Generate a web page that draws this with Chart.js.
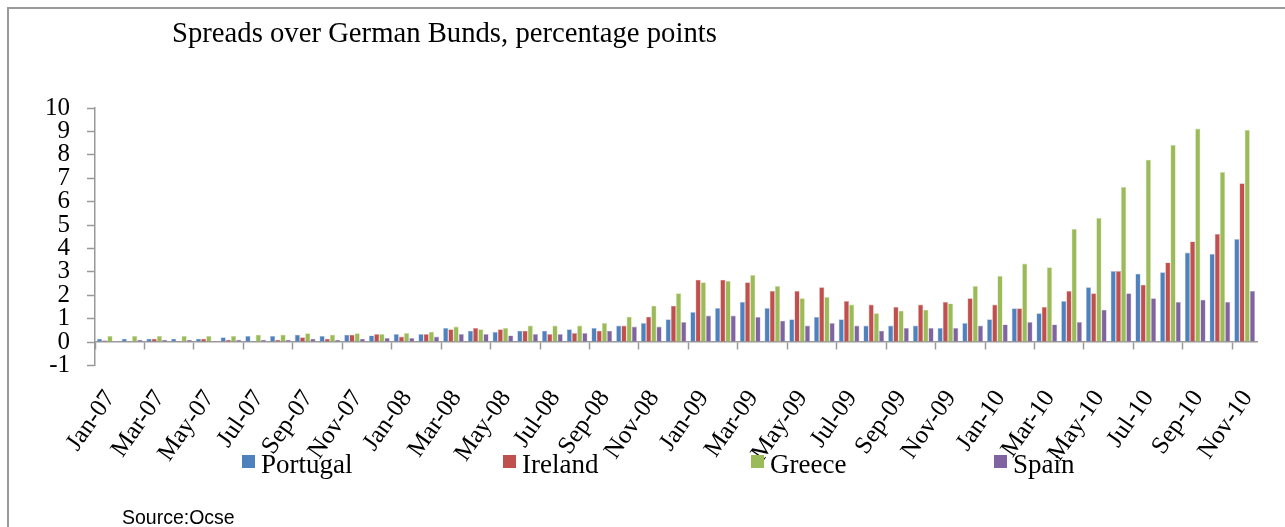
<!DOCTYPE html>
<html>
<head>
<meta charset="utf-8">
<script src="https://cdn.jsdelivr.net/npm/chart.js@4/dist/chart.umd.min.js"></script>
<style>
  html, body { margin: 0; padding: 0; background: #ffffff; }
  #wrap { position: relative; width: 1285px; height: 527px; overflow: hidden; background: #ffffff; }
  #c { position: absolute; left: 0; top: 0; }
  #frame { position: absolute; left: 7px; top: 7px; width: 1400px; height: 600px;
           border-left: 2px solid #999; border-top: 2px solid #999; }
  #subtitle { position: absolute; left: 172px; top: 18px; font-family: "Liberation Serif", serif;
              font-size: 28.7px; line-height: 28px; color: #000; white-space: nowrap; }
  #source { position: absolute; left: 122px; top: 507px; font-family: "Liberation Sans", sans-serif;
            font-size: 19.5px; line-height: 20px; color: #000; white-space: nowrap; }
  .leg { position: absolute; top: 451px; font-family: "Liberation Serif", serif; font-size: 27px;
         line-height: 27px; color: #000; white-space: nowrap; }
  .leg .sw { position: absolute; left: 0; top: 4px; width: 13px; height: 13px; }
  .leg .tx { position: absolute; left: 19px; top: 0; }
</style>
</head>
<body>
<div id="wrap">
  <canvas id="c" width="1285" height="527"></canvas>
  <div id="frame"></div>
  <div id="subtitle">Spreads over German Bunds, percentage points</div>
  <div id="source">Source:Ocse</div>
  <div id="legend"></div>
</div>
<script>
// ---- Data ----
const categories = [
  "Jan-07","Feb-07","Mar-07","Apr-07","May-07","Jun-07","Jul-07","Aug-07","Sep-07","Oct-07","Nov-07","Dec-07",
  "Jan-08","Feb-08","Mar-08","Apr-08","May-08","Jun-08","Jul-08","Aug-08","Sep-08","Oct-08","Nov-08","Dec-08",
  "Jan-09","Feb-09","Mar-09","Apr-09","May-09","Jun-09","Jul-09","Aug-09","Sep-09","Oct-09","Nov-09","Dec-09",
  "Jan-10","Feb-10","Mar-10","Apr-10","May-10","Jun-10","Jul-10","Aug-10","Sep-10","Oct-10","Nov-10"
];
const seriesNames = ["Portugal", "Ireland", "Greece", "Spain"];
const portugal = [0.14,0.14,0.14,0.14,0.14,0.20,0.26,0.26,0.31,0.26,0.31,0.28,
                  0.34,0.34,0.60,0.48,0.43,0.48,0.48,0.54,0.60,0.70,0.81,0.97,
                  1.28,1.45,1.71,1.45,0.97,1.07,0.97,0.70,0.70,0.70,0.60,0.81,
                  0.97,1.44,1.23,1.75,2.34,3.03,2.92,2.98,3.82,3.77,4.40];
const ireland  = [0.07,0.00,0.14,0.04,0.14,0.10,0.00,0.10,0.20,0.14,0.31,0.34,
                  0.23,0.34,0.54,0.60,0.54,0.48,0.34,0.38,0.48,0.70,1.08,1.55,
                  2.66,2.66,2.55,2.18,2.18,2.34,1.75,1.60,1.50,1.60,1.71,1.87,
                  1.60,1.44,1.50,2.18,2.08,3.03,2.45,3.40,4.30,4.62,6.78];
const greece   = [0.26,0.26,0.26,0.26,0.26,0.26,0.31,0.31,0.37,0.31,0.37,0.34,
                  0.38,0.44,0.66,0.54,0.60,0.70,0.70,0.70,0.81,1.08,1.55,2.08,
                  2.55,2.61,2.86,2.39,1.87,1.92,1.60,1.23,1.34,1.38,1.65,2.39,
                  2.82,3.35,3.19,4.83,5.30,6.62,7.79,8.42,9.12,7.26,9.06];
const spain    = [0.03,0.10,0.10,0.10,0.04,0.10,0.10,0.10,0.14,0.10,0.14,0.17,
                  0.17,0.23,0.34,0.34,0.28,0.34,0.34,0.38,0.48,0.66,0.66,0.85,
                  1.13,1.13,1.07,0.91,0.70,0.81,0.70,0.48,0.60,0.60,0.60,0.70,
                  0.75,0.85,0.75,0.85,1.38,2.08,1.87,1.71,1.81,1.71,2.18];
const yTickValues = [-1,0,1,2,3,4,5,6,7,8,9,10];

// ---- Styles ----
const fills   = ["#4F81BD", "#C0504D", "#9BBB59", "#8064A2"];
const borders = ["#A7C0DE", "#DFA8A6", "#CDDDAC", "#BFB1D0"];
const legendLeft = [242, 503, 751, 994];
const serif = '"Liberation Serif", serif';
const axisGray = "#999999";

const seriesValues = [portugal, ireland, greece, spain];
const datasets = seriesNames.map((name, i) => ({
  label: name,
  data: seriesValues[i],
  backgroundColor: fills[i],
  borderColor: borders[i],
  borderWidth: 0.6,
  categoryPercentage: 0.84,
  barPercentage: 1.0
}));

// HTML legend (overlapping the axis labels as in the original)
const legendEl = document.getElementById("legend");
seriesNames.forEach((name, i) => {
  const d = document.createElement("div");
  d.className = "leg";
  d.style.left = legendLeft[i] + "px";
  const sw = document.createElement("span");
  sw.className = "sw";
  sw.style.background = fills[i];
  const tx = document.createElement("span");
  tx.className = "tx";
  tx.textContent = name;
  d.appendChild(sw); d.appendChild(tx);
  legendEl.appendChild(d);
});

new Chart(document.getElementById("c"), {
  type: "bar",
  data: { labels: categories, datasets },
  options: {
    responsive: false,
    animation: false,
    layout: { padding: { left: 0, right: 28, top: 108, bottom: 161.6 } },
    plugins: { legend: { display: false }, tooltip: { enabled: false }, title: { display: false } },
    scales: {
      x: {
        position: { y: 0 },
        offset: true,
        grid: {
          offset: true,
          drawOnChartArea: false,
          drawTicks: true,
          tickLength: 7,
          tickWidth: 1.5,
          tickColor: (ctx) => (ctx.index % 2 === 0 && ctx.index < categories.length) ? axisGray : "rgba(0,0,0,0)"
        },
        border: { display: true, color: axisGray, width: 1.5 },
        ticks: {
          autoSkip: false,
          maxRotation: 55,
          minRotation: 55,
          padding: 36,
          labelOffset: 3,
          color: "#000",
          font: { family: serif, size: 25 },
          callback: function (value, index) { return index % 2 === 0 ? categories[index] : ""; }
        },
        afterFit: (scale) => { scale.paddingLeft = 0; scale.paddingRight = 0; }
      },
      y: {
        min: -1,
        max: 10,
        afterBuildTicks: (scale) => { scale.ticks = yTickValues.map(v => ({ value: v })); },
        grid: { drawOnChartArea: false, drawTicks: true, tickLength: 8, tickColor: axisGray, tickWidth: 1.5 },
        border: { display: true, color: axisGray, width: 1.5 },
        ticks: { autoSkip: false, padding: 17, color: "#000", font: { family: serif, size: 25 } },
        afterFit: (scale) => { scale.width = 95; }
      }
    }
  }
});
</script>
</body>
</html>
